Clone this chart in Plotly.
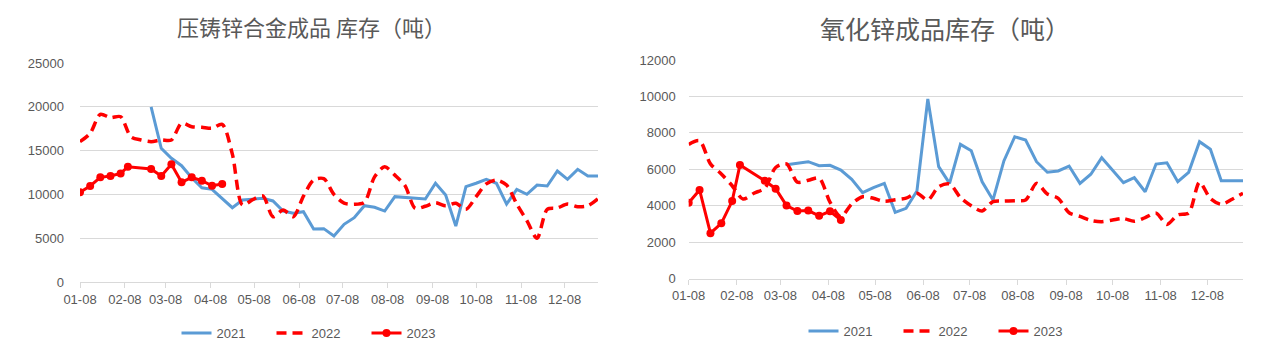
import plotly.graph_objects as go

WEEKS = ["01-08", "01-15", "01-22", "01-29", "02-05", "02-12", "02-19", "02-26",
         "03-05", "03-12", "03-19", "03-26", "04-02", "04-09", "04-16", "04-23", "04-30",
         "05-07", "05-14", "05-21", "05-28", "06-04", "06-11", "06-18", "06-25",
         "07-02", "07-09", "07-16", "07-23", "07-30", "08-06", "08-13", "08-20", "08-27",
         "09-03", "09-10", "09-17", "09-24", "10-01", "10-08", "10-15", "10-22", "10-29",
         "11-05", "11-12", "11-19", "11-26", "12-03", "12-10", "12-17", "12-24", "12-31"]
DATES_2023 = ["01-08", "01-15", "01-22", "01-29", "02-05", "02-10", "02-26",
              "03-05", "03-12", "03-19", "03-26", "04-02", "04-09", "04-16"]
TICK_LABELS = ["01-08", "02-08", "03-08", "04-08", "05-08", "06-08",
               "07-08", "08-08", "09-08", "10-08", "11-08", "12-08"]

# 压铸锌合金成品库存
ZA_2021 = [20000, 15260, 14120, 13280, 11900, 10760, 10580, 9550, 8480, 9360,
           9440, 9550, 9250, 8100, 7840, 8030, 6050, 6090, 5250, 6590,
           7340, 8710, 8530, 8100, 9740, 9670, 9600, 9470, 11270, 9930,
           6390, 10880, 11270, 11720, 11270, 8900, 10580, 10010, 11070, 10960,
           12670, 11720, 12860, 12100, 12100]
ZA_2022 = [16020, 16970, 19140, 18760, 18870, 16590, 16210, 16020, 16210, 16210,
           18120, 17730, 17660, 17550, 18000, 14600, 8790, 9400, 9820, 7450,
           8220, 7450, 9800, 11640, 11800, 10000, 9000, 8870, 9100, 12000,
           13160, 12200, 11000, 8410, 8650, 9050, 8700, 8980, 8300, 9740,
           11200, 11640, 11070, 8900, 7000, 5000, 8300, 8450, 8900, 8600,
           8700, 9500]
ZA_2023 = [10240, 10960, 11950, 12100, 12400, 13160, 12900, 12100, 13430, 11380,
           11950, 11560, 10990, 11190]

# 氧化锌成品库存
ZO_2021 = [6250, 6350, 6420, 6200, 6220, 5960, 5450, 4720, 5000, 5230,
           3640, 3860, 4810, 9860, 6150, 5230, 7370, 7020, 5320, 4320,
           6460, 7790, 7610, 6420, 5840, 5910, 6180, 5230, 5730, 6640,
           5960, 5270, 5540, 4770, 6290, 6360, 5320, 5840, 7520, 7100,
           5380, 5380, 5380]
ZO_2022 = [7370, 7570, 6300, 5750, 5100, 4370, 4690, 4970, 6100, 6300,
           5300, 5400, 5520, 4200, 3400, 4100, 4500, 4410, 4250, 4330,
           4420, 4690, 4320, 5050, 5200, 4450, 4000, 3720, 4230, 4260,
           4280, 4320, 5230, 4650, 4410, 3620, 3420, 3200, 3130, 3220,
           3300, 3150, 3350, 3600, 2980, 3500, 3600, 5290, 4400, 4080,
           4360, 4690]
ZO_2023 = [4170, 4870, 2500, 3040, 4260, 6240, 5370, 4940, 4010, 3710,
           3740, 3450, 3700, 3220]

BLUE = "#5B9BD5"
RED = "#FF0000"
GRID = "#D9D9D9"
TXT = "#595959"
NUMFONT = "Liberation Sans, Arial, sans-serif"
CJK = "Noto Sans CJK SC, sans-serif"

W, H, OFF = 1272, 356, 8  # page body has an 8px margin


def px(x):
    return (x - OFF) / W


def py(y):
    return (H - (y - OFF)) / H


def d(md_list):
    return ["2021-" + s for s in md_list]


fig = go.Figure()


def add_series(xa, ya, leg, s21_dates, s21, s22, s23):
    fig.add_trace(go.Scatter(x=d(s21_dates), y=s21, name="2021", mode="lines",
                             line=dict(color=BLUE, width=3),
                             xaxis=xa, yaxis=ya, legend=leg))
    fig.add_trace(go.Scatter(x=d(WEEKS), y=s22, name="2022", mode="lines",
                             line=dict(color=RED, width=3.5, dash="10px,6px", shape="spline", smoothing=0.8),
                             xaxis=xa, yaxis=ya, legend=leg))
    fig.add_trace(go.Scatter(x=d(DATES_2023), y=s23, name="2023", mode="lines+markers",
                             line=dict(color=RED, width=3), marker=dict(color=RED, size=8),
                             xaxis=xa, yaxis=ya, legend=leg))


add_series("x", "y", "legend", WEEKS[7:], ZA_2021, ZA_2022, ZA_2023)
add_series("x2", "y2", "legend2", WEEKS[9:], ZO_2021, ZO_2022, ZO_2023)

xcommon = dict(type="date", range=["2021-01-08", "2021-12-31"], automargin=False,
               tickmode="array", tickvals=d(TICK_LABELS), ticktext=TICK_LABELS,
               showgrid=False, showline=True, linecolor=GRID, linewidth=1,
               ticks="outside", ticklen=5, tickcolor=GRID,
               tickfont=dict(family=NUMFONT, size=13, color=TXT), zeroline=False)
ycommon = dict(showgrid=True, gridcolor=GRID, gridwidth=1, zeroline=False, automargin=False,
               showline=False, ticks="", tickformat="d",
               tickfont=dict(family=NUMFONT, size=13, color=TXT))

legfont = dict(family=NUMFONT, size=13, color=TXT)

fig.update_layout(
    width=W, height=H, margin=dict(l=0, r=0, t=0, b=0, autoexpand=False),
    paper_bgcolor="white", plot_bgcolor="white",
    xaxis=dict(domain=[px(80), px(598)], anchor="y", **xcommon),
    yaxis=dict(domain=[py(282), py(63)], anchor="x", ticklabelstandoff=15,
               range=[0, 25000], dtick=5000, **ycommon),
    xaxis2=dict(domain=[px(688.7), px(1243)], anchor="y2", **xcommon),
    yaxis2=dict(domain=[py(278.7), py(60)], anchor="x2", ticklabelstandoff=12,
                range=[0, 12000], dtick=2000, **ycommon),
    legend=dict(orientation="h", x=px(319), xanchor="center", y=py(333), yanchor="middle",
                entrywidth=50, entrywidthmode="pixels",
                font=legfont, bgcolor="rgba(0,0,0,0)"),
    legend2=dict(orientation="h", x=px(946), xanchor="center", y=py(331), yanchor="middle",
                 entrywidth=50, entrywidthmode="pixels",
                 font=legfont, bgcolor="rgba(0,0,0,0)"),
    annotations=[
        dict(text="压铸锌合金成品 库存（吨）", x=px(311), y=1, xref="paper", yref="paper",
             xanchor="center", yanchor="top", showarrow=False,
             font=dict(family=CJK, size=22, color=TXT)),
        dict(text="氧化锌成品库存（吨）", x=px(945), y=1, xref="paper", yref="paper",
             xanchor="center", yanchor="top", showarrow=False,
             font=dict(family=CJK, size=25, color=TXT)),
    ],
    showlegend=True,
)

fig.write_html("out.html")
